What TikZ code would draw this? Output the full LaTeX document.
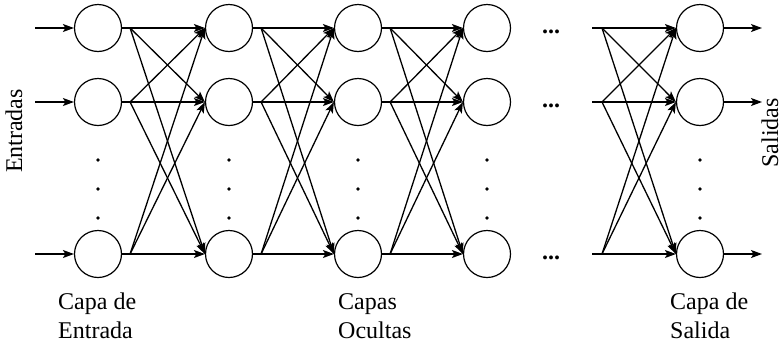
\documentclass[tikz,border=0pt]{standalone}
\usepackage{fontspec}
\setmainfont{Liberation Serif}
\usetikzlibrary{positioning, arrows.meta}

\begin{document}
\begin{tikzpicture}[x=1pt, y=-1pt, >={Stealth[length=11pt,width=8pt,inset=2.5pt]},
	neuron/.style={draw, circle, minimum size=47pt, inner sep=0pt, line width=1.2pt},
	link/.style={->, line width=1.3pt},
	lbl/.style={font=\fontsize{24}{29}\selectfont, inner sep=0pt}]
			\useasboundingbox (0,0) rectangle (784,346);
			
			% neuronas
			\foreach \c/\x in {1/98, 2/229, 3/358, 4/487, 5/700}
				\foreach \r/\y in {1/28, 2/102, 3/254}
					\node[neuron] (n\c\r) at (\x,\y) {};
			
			\foreach \c in {1,2,3}
				\foreach \r in {1,2,3}
					\coordinate (f\c\r) at ([xshift=8pt]n\c\r.east);
			
			\foreach \c/\d in {1/2, 2/3, 3/4} {
				\foreach \r in {1,2,3} {
					\draw[link] (n\c\r.east) -- (n\d\r.west);
					\foreach \s in {1,2,3} {
						\ifnum\r=\s\else \draw[link] (f\c\r) -- (n\d\s.west); \fi
					}
				}
			}
			
			% entradas, salidas y ultima capa
			\foreach \r/\y in {1/28, 2/102, 3/254} {
				\coordinate (in\r) at (35,\y);
				\coordinate (out\r) at (762,\y);
				\coordinate (s\r) at (592,\y);
				\coordinate (g\r) at (602,\y);
				\draw[link] (in\r) -- (n1\r.west);
				\draw[link] (n5\r.east) -- (out\r);
				\draw[link] (s\r) -- (n5\r.west);
				\node[lbl, anchor=base, font=\bfseries\fontsize{24}{29}\selectfont] (dots\r) at (551,\y+5) {...};
			}
			\foreach \r in {1,2,3}
				\foreach \s in {1,2,3} {
					\ifnum\r=\s\else \draw[link] (g\r) -- (n5\s.west); \fi
				}
			
			\foreach \x in {98, 229, 358, 487, 700}
				\foreach \y in {160, 189, 218}
					\fill (\x,\y) circle (1.8pt);
			
			\node[lbl, rotate=90] (entradas) at (14,131) {Entradas};
			\node[lbl, rotate=90] (salidas) at (770,133) {Salidas};
			\node[lbl, align=left, anchor=north west] (entrada) at (58,293) {Capa de\\Entrada};
			\node[lbl, align=left, anchor=north west] (ocultas) at (338,293) {Capas\\Ocultas};
			\node[lbl, align=left, anchor=north west] (salida) at (670,293) {Capa de\\Salida};
\end{tikzpicture}
\end{document}
